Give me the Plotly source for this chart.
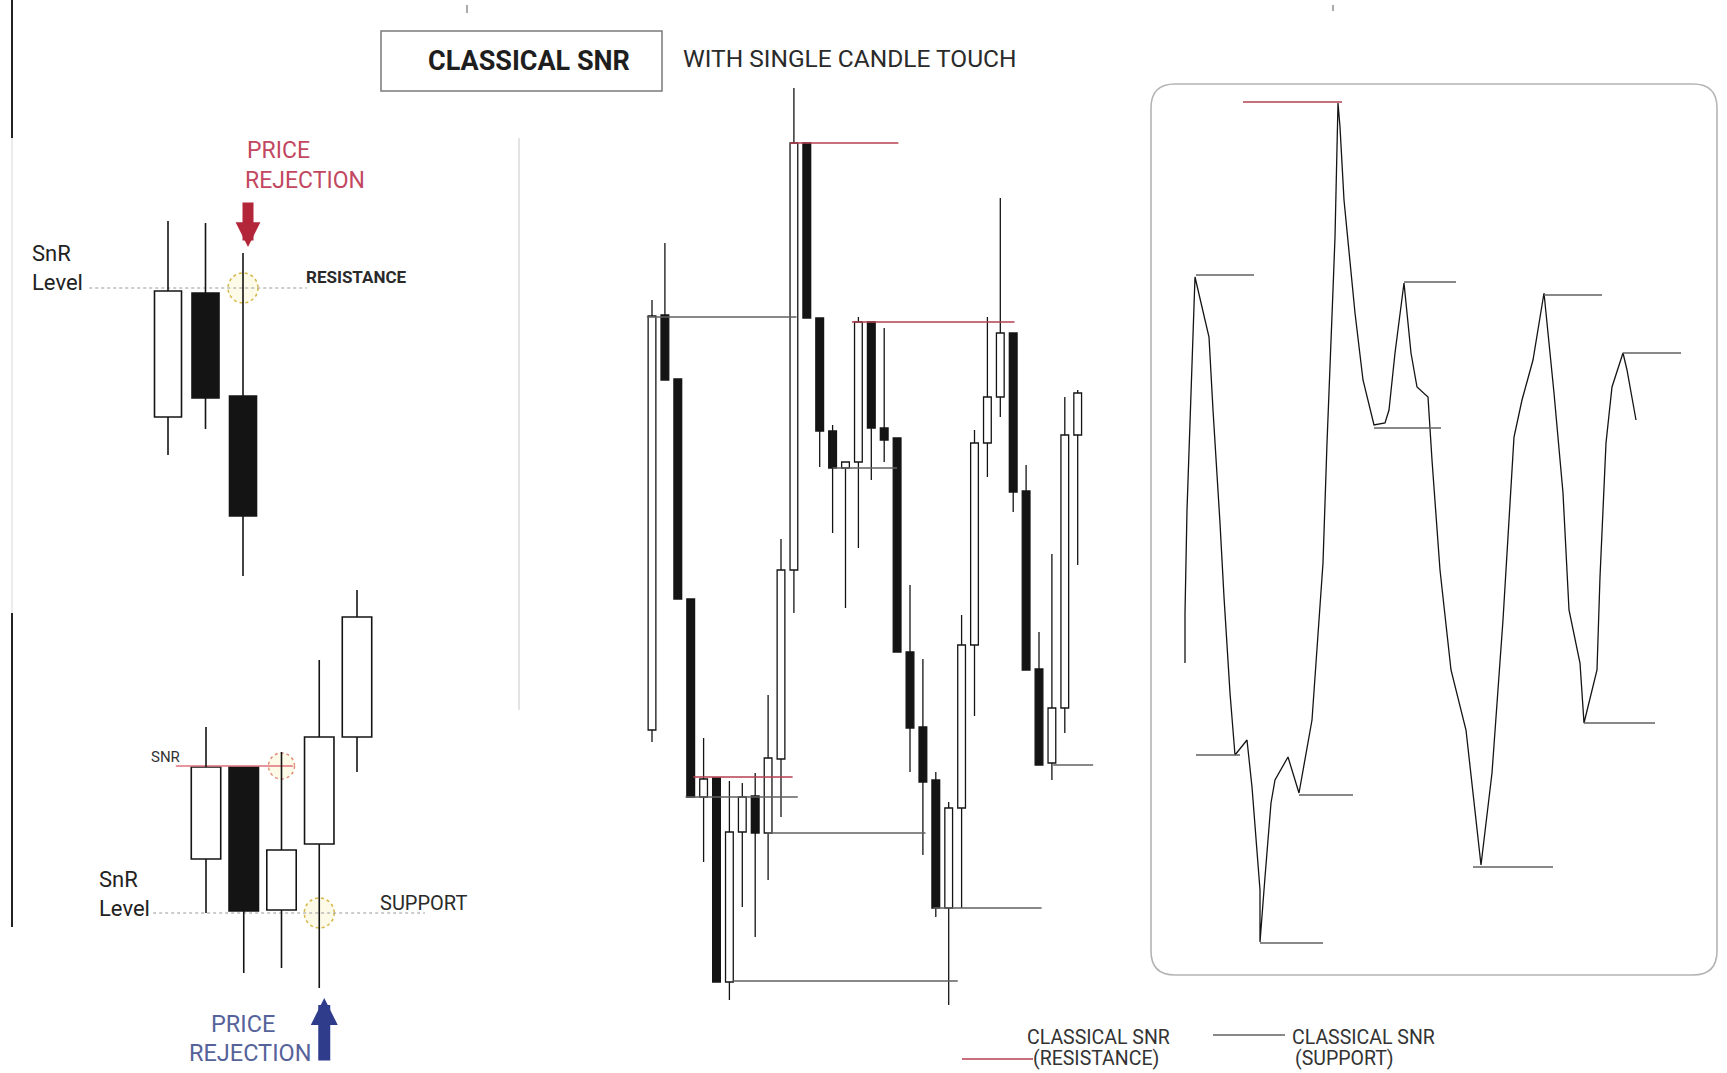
import plotly.graph_objects as go

W, H = 1727, 1073

# ---- left top: rejection at resistance (3 candles) ----
res_open = [656, 780, 677]
res_high = [852, 850, 820]
res_low = [618, 644, 497]
res_close = [782, 675, 557]
res_level = 785
res_level_span = [-2.1, 3.7]

# ---- left bottom: rejection at support (5 candles) ----
sup_open = [214, 306, 163, 229, 336]
sup_high = [346, 306, 321, 413, 483]
sup_low = [160, 100, 105, 85, 301]
sup_close = [306, 162, 223, 336, 456]
sup_snr = 307
sup_snr_span = [-0.8, 2.3]
sup_level = 160
sup_level_span = [-1.4, 5.8]

# ---- middle: classical snr with single candle touch ----
mid_open = [343, 758, 694, 474, 276, 295, 91, 241, 277, 240, 314, 503, 930, 755, 642, 605, 611,
            751, 645, 635, 421, 346, 293, 165, 265, 428, 630, 676, 740, 582, 404, 310, 365, 638]
mid_high = [773, 830, 694, 474, 335, 295, 292, 290, 300, 378, 534, 985, 930, 755, 648, 611, 756,
            751, 745, 635, 488, 414, 301, 271, 458, 643, 756, 875, 740, 608, 441, 519, 676, 683]
mid_low = [331, 693, 474, 276, 211, 91, 73, 166, 136, 193, 256, 460, 755, 606, 540, 465, 525,
           593, 611, 421, 301, 218, 156, 68, 165, 357, 596, 656, 561, 403, 308, 293, 340, 508]
mid_close = [757, 693, 474, 276, 294, 91, 241, 276, 240, 315, 503, 930, 755, 642, 605, 611, 751,
             645, 633, 421, 345, 291, 165, 265, 428, 630, 676, 740, 581, 403, 308, 365, 638, 680]

mid_res_price = [930, 751, 296]
mid_res_from = [10.7, 15.5, 3.2]
mid_res_to = [19.1, 28.1, 10.9]
mid_sup_price = [756, 605, 276, 240, 165, 92, 308]
mid_sup_from = [-0.4, 14.0, 2.6, 8.9, 21.8, 6.3, 31.1]
mid_sup_to = [11.2, 19.0, 11.3, 21.2, 30.2, 23.7, 34.2]

# ---- right: swing line ----
swing_t = [35, 35, 37, 41, 45, 59, 63, 70, 74, 80, 85, 97, 102, 110, 110, 115, 121, 125, 138, 149,
           162, 173, 177, 183, 185, 188, 190, 194, 205, 213, 224, 235, 239, 245, 254, 261, 267, 278,
           282, 290, 301, 316, 325, 331, 342, 353, 364, 372, 383, 394, 404, 413, 419, 430, 434, 447,
           450, 456, 462, 473, 477, 486]
swing_p = [410, 460, 563, 670, 796, 736, 663, 550, 476, 380, 318, 333, 286, 183, 131, 196, 270, 293,
           316, 280, 353, 510, 630, 783, 836, 970, 946, 873, 760, 693, 648, 650, 663, 720, 790, 720,
           686, 676, 613, 503, 403, 343, 263, 208, 300, 453, 636, 673, 713, 780, 680, 580, 463, 410,
           350, 403, 496, 630, 686, 720, 703, 653]
sw_res_price = [971]
sw_res_from = [93]
sw_res_to = [192]
sw_sup_price = [798, 791, 645, 778, 720, 318, 278, 130, 206, 350]
sw_sup_from = [46, 254, 224, 394, 473, 46, 149, 110, 323, 434]
sw_sup_to = [104, 306, 291, 452, 531, 90, 203, 173, 403, 505]

RED = '#b5404f'
GREY = '#606060'
INK = '#141414'


def px(x):
    return x / W


def py(y):
    return 1 - y / H


def dom(origin, step, lo, hi):
    return [(origin + lo * step) / W, (origin + hi * step) / W]


def candles(o, h, l, c, xa, width, lw):
    x = list(range(len(o)))
    top = [max(a, b) for a, b in zip(o, c)]
    bot = [min(a, b) for a, b in zip(o, c)]
    wx, wy = [], []
    for i in x:
        if h[i] > top[i]:
            wx += [i, i, None]
            wy += [h[i], top[i], None]
        if l[i] < bot[i]:
            wx += [i, i, None]
            wy += [bot[i], l[i], None]
    wick = go.Scatter(x=wx, y=wy, mode='lines', line=dict(color=INK, width=lw),
                      xaxis=xa, yaxis='y', hoverinfo='skip')
    body = go.Bar(x=x, y=[t - b for t, b in zip(top, bot)], base=bot, width=width,
                  marker=dict(color=['white' if cc > oo else INK for oo, cc in zip(o, c)],
                              line=dict(color=INK, width=lw)),
                  xaxis=xa, yaxis='y', hoverinfo='skip')
    return [wick, body]


def levels(prices, x0s, x1s, xa, color, width=1.3, dash='solid'):
    xs, ys = [], []
    for p, a, b in zip(prices, x0s, x1s):
        xs += [a, b, None]
        ys += [p, p, None]
    return go.Scatter(x=xs, y=ys, mode='lines', line=dict(color=color, width=width, dash=dash),
                      xaxis=xa, yaxis='y', hoverinfo='skip')


fig = go.Figure()

# left top
fig.add_trace(levels([res_level], [res_level_span[0]], [res_level_span[1]], 'x', '#9a9a9a', 1.2, 'dot'))
for t in candles(res_open, res_high, res_low, res_close, 'x', 0.72, 1.6):
    fig.add_trace(t)

# left bottom
fig.add_trace(levels([sup_level], [sup_level_span[0]], [sup_level_span[1]], 'x2', '#9a9a9a', 1.2, 'dot'))
fig.add_trace(levels([sup_snr], [sup_snr_span[0]], [sup_snr_span[1]], 'x2', '#e0707e', 1.4))
for t in candles(sup_open, sup_high, sup_low, sup_close, 'x2', 0.78, 1.6):
    fig.add_trace(t)

# middle
for t in candles(mid_open, mid_high, mid_low, mid_close, 'x3', 0.6, 1.3):
    fig.add_trace(t)
fig.add_trace(levels(mid_sup_price, mid_sup_from, mid_sup_to, 'x3', GREY))
fig.add_trace(levels(mid_res_price, mid_res_from, mid_res_to, 'x3', RED))

# right
fig.add_trace(go.Scatter(x=swing_t, y=swing_p, mode='lines', line=dict(color=INK, width=1.3),
                         xaxis='x4', yaxis='y', hoverinfo='skip'))
fig.add_trace(levels(sw_sup_price, sw_sup_from, sw_sup_to, 'x4', GREY))
fig.add_trace(levels(sw_res_price, sw_res_from, sw_res_to, 'x4', RED, 1.6))

ax = dict(visible=False, fixedrange=True, anchor='y')
fig.update_layout(
    width=W, height=H, margin=dict(l=0, r=0, t=0, b=0),
    paper_bgcolor='white', plot_bgcolor='rgba(0,0,0,0)', showlegend=False, barmode='overlay',
    font=dict(family='Roboto, sans-serif', color='#222'),
    xaxis=dict(ax, range=[-3, 4], domain=dom(168, 37.5, -3, 4)),
    xaxis2=dict(ax, range=[-2, 6.5], domain=dom(206, 37.75, -2, 6.5)),
    xaxis3=dict(ax, range=[-1, 35], domain=dom(652, 12.9, -1, 35)),
    xaxis4=dict(ax, range=[0, 577], domain=dom(1150, 1, 0, 577)),
    yaxis=dict(visible=False, fixedrange=True, range=[0, H], domain=[0, 1]),
)

# frames and guide lines
shapes = [
    dict(type='rect', x0=px(381), x1=px(662), y0=py(31), y1=py(91), line=dict(color='#7a7a7a', width=1.5)),
    dict(type='line', x0=px(519), x1=px(519), y0=py(138), y1=py(710), line=dict(color='#c8c8c8', width=1)),
    dict(type='line', x0=px(12), x1=px(12), y0=py(0), y1=py(138), line=dict(color='#222', width=2)),
    dict(type='line', x0=px(12), x1=px(12), y0=py(138), y1=py(613), line=dict(color='#d8d8d8', width=1)),
    dict(type='line', x0=px(12), x1=px(12), y0=py(613), y1=py(927), line=dict(color='#222', width=2)),
    dict(type='line', x0=px(467), x1=px(467), y0=py(5), y1=py(13), line=dict(color='#555', width=1)),
    dict(type='line', x0=px(1333), x1=px(1333), y0=py(5), y1=py(11), line=dict(color='#555', width=1)),
    # legend swatches
    dict(type='line', x0=px(962), x1=px(1033), y0=py(1059), y1=py(1059), line=dict(color=RED, width=1.5)),
    dict(type='line', x0=px(1213), x1=px(1285), y0=py(1035), y1=py(1035), line=dict(color=GREY, width=1.3)),
]

# rounded box around the swing chart
bx0, bx1, by0, by1, r = 1151, 1717, 84, 975, 24
pts = [('M', bx0 + r, by0), ('L', bx1 - r, by0), ('Q', bx1, by0, bx1, by0 + r), ('L', bx1, by1 - r),
       ('Q', bx1, by1, bx1 - r, by1), ('L', bx0 + r, by1), ('Q', bx0, by1, bx0, by1 - r),
       ('L', bx0, by0 + r), ('Q', bx0, by0, bx0 + r, by0)]
path = ''
for p in pts:
    coords = p[1:]
    path += p[0] + ' ' + ' '.join(f'{px(coords[k]):.5f},{py(coords[k + 1]):.5f}' for k in range(0, len(coords), 2)) + ' '
shapes.append(dict(type='path', path=path + 'Z', xref='paper', yref='paper', line=dict(color='#b4b4b4', width=1.6)))


def ring(xa, xi, price, rad, color):
    return dict(type='circle', xref=xa, yref='y', xsizemode='pixel', ysizemode='pixel',
                xanchor=xi, yanchor=price, x0=-rad, x1=rad, y0=-rad, y1=rad,
                line=dict(color=color, width=1.5, dash='dot'), fillcolor='rgba(245,225,130,0.18)')


shapes += [ring('x', 2, res_level, 15, '#d4b84a'),
           ring('x2', 2, sup_snr, 13, '#e0907a'),
           ring('x2', 3, sup_level, 15, '#d4b84a')]
for s in shapes:
    s.setdefault('xref', 'paper')
    s.setdefault('yref', 'paper')
    s['layer'] = 'below' if s['type'] == 'circle' else 'above'
fig.update_layout(shapes=shapes)


def txt(s, x, y, size, color='#222', anchor='left', weight='normal'):
    fig.add_annotation(text=s, x=px(x), y=py(y), xref='paper', yref='paper', showarrow=False,
                       xanchor=anchor, yanchor='middle',
                       font=dict(size=size, color=color, family='Roboto, sans-serif', weight=weight))


txt('CLASSICAL SNR', 529, 61, 27, '#1e1e1e', 'center', 'bold')
txt('WITH SINGLE CANDLE TOUCH', 681, 58, 24.5, '#2a2a2a')
txt('PRICE', 245, 151, 23, '#c2475f')
txt('REJECTION', 243, 180, 23, '#c2475f')
txt('SnR', 30, 253, 22)
txt('Level', 30, 283, 22)
txt('RESISTANCE', 304, 277, 17, '#2a2a2a', weight='bold')
txt('SNR', 149, 757, 15, '#333')
txt('SnR', 97, 879, 22)
txt('Level', 97, 908, 22)
txt('SUPPORT', 378, 903, 20, '#2a2a2a')
txt('PRICE', 209, 1024, 23.5, '#56639a')
txt('REJECTION', 187, 1053, 23.5, '#56639a')
txt('CLASSICAL SNR', 1098, 1037, 19.5, '#333', 'center')
txt('(RESISTANCE)', 1096, 1058, 19.5, '#333', 'center')
txt('CLASSICAL SNR', 1290, 1037, 19.5, '#333')
txt('(SUPPORT)', 1293, 1058, 19.5, '#333')

# rejection arrows
fig.add_annotation(x=2, y=res_high[2], xref='x', yref='y', text='', showarrow=True,
                   ax=0, ay=-46, xshift=5, yshift=6, arrowhead=2, arrowsize=0.45,
                   arrowwidth=11, arrowcolor='#b3263a')
fig.add_annotation(x=3, y=sup_low[3], xref='x2', yref='y', text='', showarrow=True,
                   ax=0, ay=64, xshift=5, yshift=-10, arrowhead=2, arrowsize=0.45,
                   arrowwidth=12, arrowcolor='#2f3c8c')

fig.write_html("out.html", config={'displayModeBar': False},
               post_script="document.body.style.margin='0';")
